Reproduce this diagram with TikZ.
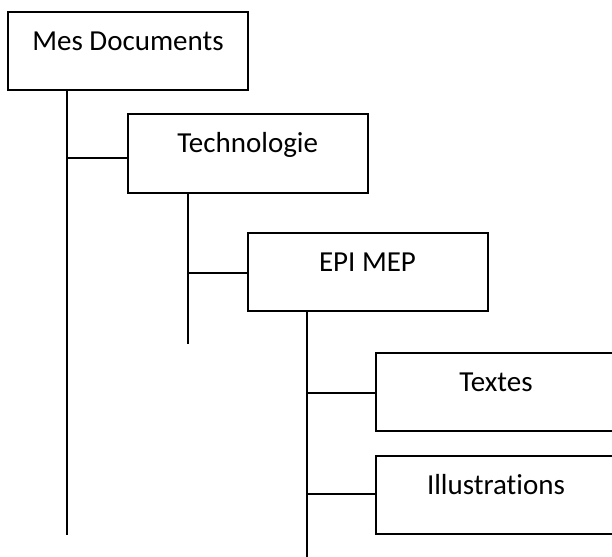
\documentclass[tikz,border=0pt]{standalone}
\usepackage{fontspec}
\setmainfont{Carlito}[Ligatures={NoCommon,NoContextual}]
\usetikzlibrary{calc}
\tikzset{
	dossier/.style={draw, line width=2pt, rectangle, minimum width=240pt, inner xsep=0pt, inner ysep=0pt,
		text height=38.5pt, text depth=39.9pt, font=\fontsize{29}{35}\selectfont},
	branche/.style={line width=2pt}
}

\begin{document}
\begin{tikzpicture}[x=1pt, y=-1pt]
				\clip (0,0) rectangle (612,556);
				
				\node[dossier] (docs) at (128, 50.8) {Mes Documents};
				\node[dossier] (techno) at (247.7, 153.5) {Technologie};
				\node[dossier] (epi) at (367.5, 271.9) {EPI MEP};
				\node[dossier] (textes) at (496, 391.9) {Textes};
				\node[dossier] (illus) at (496, 494.7) {Illustrations};
				
				\coordinate (finA) at (66.7, 535);
				\coordinate (finB) at (188.3, 344);
				\coordinate (finC) at (306.7, 560);
				
				\draw[branche] (docs.south -| finA) -- (finA);
				\draw[branche] (techno.south -| finB) -- (finB);
				\draw[branche] (epi.south -| finC) -- (finC);
				
				\coordinate (brA) at (66.7, 157.7);
				\coordinate (brB) at (188.3, 272.7);
				\coordinate (brC) at (306.7, 392.7);
				\coordinate (brD) at (306.7, 494);
				
				\draw[branche] (brA) -- (brA -| techno.west);
				\draw[branche] (brB) -- (brB -| epi.west);
				\draw[branche] (brC) -- (brC -| textes.west);
				\draw[branche] (brD) -- (brD -| illus.west);
\end{tikzpicture}
\end{document}
